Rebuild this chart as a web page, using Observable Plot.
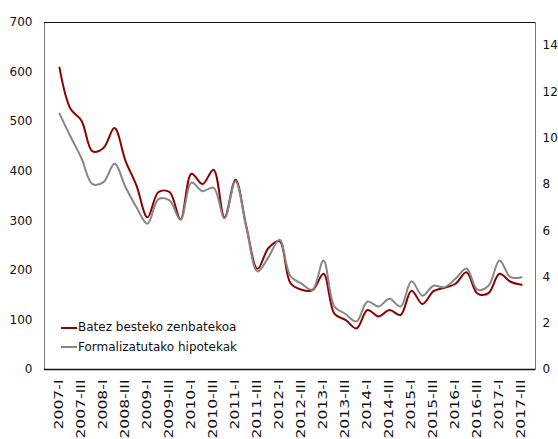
<!DOCTYPE html>
<html>
<head>
<meta charset="utf-8">
<script src="https://cdn.jsdelivr.net/npm/d3@7"></script>
<script src="https://cdn.jsdelivr.net/npm/@observablehq/plot@0.6"></script>
<style>
  html, body { margin: 0; padding: 0; background: #fff; }
  #wrap { position: relative; width: 558px; height: 439px; overflow: hidden; font-family: "DejaVu Sans", Verdana, sans-serif; }
  .legend { position: absolute; left: 61px; top: 318px; font-size: 12px; color: #111; line-height: 19.5px; }
  .legend .row { display: flex; align-items: center; white-space: nowrap; }
  .legend .sw { width: 16px; height: 2px; margin-right: 1px; }
</style>
</head>
<body>
<div id="wrap"></div>
<script>
// Quarters 2007-I .. 2017-III
const years = d3.range(2007, 2018);
const roman = ["I", "II", "III", "IV"];
const quarters = years.flatMap(y => roman.map(r => `${y}-${r}`)).slice(0, 43);

// Batez besteko zenbatekoa (left axis)
const avgAmount = [609, 526, 502, 440, 447, 487, 421, 371, 307, 358, 358, 303, 395, 374, 403, 307,
  383, 287, 203, 245, 259, 174, 161, 160, 193, 112, 100, 83, 120, 107, 120, 110,
  159, 132, 158, 165, 173, 196, 153, 154, 193, 177, 171];

// Formalizatutako hipotekak (right axis, thousands)
const mortgages = [11.06, 10.07, 9.13, 8.01, 8.10, 8.89, 7.89, 7.01, 6.30, 7.37, 7.31, 6.47, 8.08, 7.71, 7.86, 6.54,
  8.14, 6.11, 4.24, 4.86, 5.61, 4.03, 3.71, 3.45, 4.71, 2.72, 2.40, 2.08, 2.94, 2.72, 3.06, 2.72,
  3.81, 3.19, 3.62, 3.56, 3.92, 4.37, 3.45, 3.62, 4.71, 3.99, 3.99];

const leftTicks = d3.range(0, 701, 100);
const rightTicks = d3.range(0, 15, 2);
const leftMax = 700, rightMax = 15;
const toLeft = v => v * leftMax / rightMax;

const seriesNames = ["Batez besteko zenbatekoa", "Formalizatutako hipotekak"];
const colors = ["#8b0000", "#878787"];

const rows = quarters.map((q, i) => ({q, avg: avgAmount[i], mort: mortgages[i]}));
const xTicks = quarters.filter((d, i) => i % 2 === 0);

const chart = Plot.plot({
  width: 558,
  height: 439,
  marginLeft: 44,
  marginRight: 23,
  marginTop: 22,
  marginBottom: 70,
  style: {fontFamily: "DejaVu Sans, Verdana, sans-serif", fontSize: "12px", color: "#111", background: "#fff"},
  x: {type: "point", domain: quarters, padding: 0.5},
  y: {domain: [0, leftMax]},
  marks: [
    Plot.frame({stroke: "#777"}),
    Plot.ruleY([leftMax], {stroke: "#111"}),
    Plot.line(rows, {x: "q", y: "avg", stroke: colors[0], strokeWidth: 2, curve: "catmull-rom"}),
    Plot.line(rows, {x: "q", y: d => toLeft(d.mort), stroke: colors[1], strokeWidth: 2, curve: "catmull-rom"}),
    Plot.ruleY([0], {stroke: "#111", strokeWidth: 1.5}),
    Plot.axisY(leftTicks, {anchor: "left", tickSize: 0, tickPadding: 12, label: null, fontSize: 12}),
    Plot.axisY(rightTicks.map(toLeft), {anchor: "right", tickSize: 0, tickPadding: 7, label: null, fontSize: 12,
      tickFormat: d => String(Math.round(d * rightMax / leftMax))}),
    Plot.axisX(xTicks, {anchor: "bottom", tickSize: 0, tickPadding: 10, tickRotate: -90, label: null, fontSize: 12})
  ]
});

// slight stretch of rotated x labels along their length, as in the reference
d3.select(chart).selectAll('g[aria-label="x-axis tick label"] text').each(function() {
  const t = this.getAttribute("transform");
  if (t) this.setAttribute("transform", t + " scale(1.3,1)");
});

const wrap = document.getElementById("wrap");
wrap.appendChild(chart);

const legend = document.createElement("div");
legend.className = "legend";
seriesNames.forEach((name, i) => {
  const row = document.createElement("div");
  row.className = "row";
  const sw = document.createElement("span");
  sw.className = "sw";
  sw.style.background = colors[i];
  const label = document.createElement("span");
  label.textContent = name;
  row.appendChild(sw);
  row.appendChild(label);
  legend.appendChild(row);
});
wrap.appendChild(legend);
</script>
</body>
</html>
